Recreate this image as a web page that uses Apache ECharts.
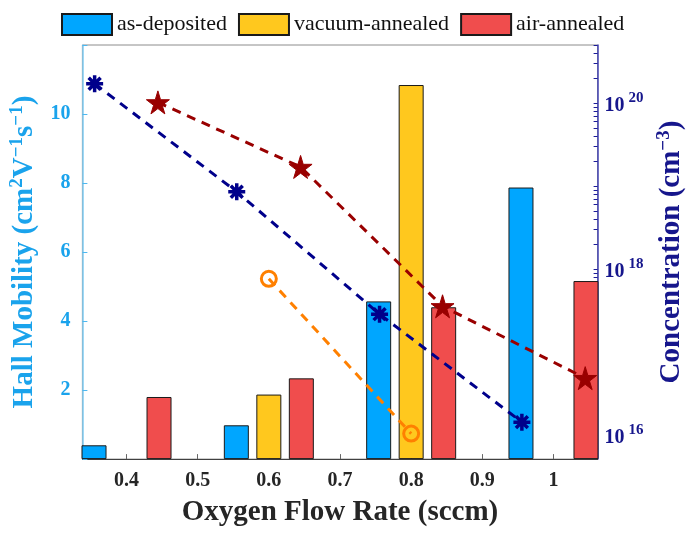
<!DOCTYPE html>
<html><head><meta charset="utf-8">
<script src="https://cdn.jsdelivr.net/npm/echarts@6/dist/echarts.min.js"></script>
<style>html,body{margin:0;padding:0;background:#fff}#c{width:694px;height:535px}</style>
</head><body><div id="c"></div>
<script>
// ---- data ----
const seriesNames = ['as-deposited', 'vacuum-annealed', 'air-annealed'];
const flowAsDep = [0.4, 0.6, 0.8, 1.0];
const flowVac   = [0.6, 0.8];
const flowAir   = [0.4, 0.6, 0.8, 1.0];
const mobAsDep = [0.40, 0.98, 4.57, 7.87];
const mobVac   = [1.87, 10.84];
const mobAir   = [1.80, 2.34, 4.40, 5.16];
// marker x positions (they sit on the bar centres)
const xConcAsDep = [0.3552, 0.5549, 0.7556, 0.9556];
const xConcVac   = [0.6, 0.8];
const xConcAir   = [0.4441, 0.6446, 0.8441, 1.0446];
const concAsDep = [1.71e20, 8.53e18, 2.86e17, 1.43e16];
const concVac   = [7.62e17, 1.04e16];
const concAir   = [1.02e20, 1.70e19, 3.56e17, 4.85e16];
const xTickLabels = [0.4, 0.5, 0.6, 0.7, 0.8, 0.9, 1.0];
const mobTicks = [0, 2, 4, 6, 8, 10, 12];
const concTickExps = [16, 18, 20];

// ---- styling ----
const serif = 'Liberation Serif';
const cBlue = '#00A6FF', cYellow = '#FFC81E', cRed = '#F04D4D';
const leftCol = '#1AA3EC', rightCol = '#16168C';
const xMin = 0.338, xMax = 1.062, eMin = 15.71, eMax = 20.70;

const minorExp = [];
for (let n = 15; n <= 20; n++) for (let k = 1; k <= 9; k++) {
  const v = Math.log10(k * Math.pow(10, n));
  if (v >= eMin && v <= eMax) minorExp.push(v);
}

const asterisk = 'path://M0,10 L20,10 M10,0 L10,20 M3,3 L17,17 M17,3 L3,17';
const star = 'path://M50,0 L61,35 L98,35 L68,57 L79,91 L50,70 L21,91 L32,57 L2,35 L39,35 Z';

const chart = echarts.init(document.getElementById('c'), null, { renderer: 'canvas' });
const boldTxt = (size, color) => ({ fontFamily: serif, fontWeight: 'bold', fontSize: size, color: color });

function barSeries(name, xs, ys, color) {
  return {
    name: name, type: 'bar', xAxisIndex: 0, yAxisIndex: 0, barWidth: 25, barGap: '30%', z: 2,
    data: xs.map((x, i) => [x, ys[i]]),
    itemStyle: { color: color, borderColor: '#1a1a1a', borderWidth: 1 }
  };
}
function lineSeries(name, xs, cs, color, symbol, size, itemStyle) {
  return {
    name: name, type: 'line', xAxisIndex: 0, yAxisIndex: 1, z: 4,
    data: xs.map((x, i) => [x, Math.log10(cs[i])]),
    symbol: symbol, symbolSize: size, showAllSymbol: true,
    lineStyle: { color: color, width: 3, type: [9, 7] },
    itemStyle: itemStyle
  };
}
const nameRich = (col) => ({
  a: { fontFamily: serif, fontWeight: 'bold', fontSize: 29, color: col, lineHeight: 34 },
  s: { fontFamily: serif, fontWeight: 'bold', fontSize: 19, color: col, lineHeight: 19, verticalAlign: 'top' }
});

chart.setOption({
  animation: false,
  backgroundColor: '#fff',
  grid: { left: 76, right: 93, top: 45, bottom: 62, show: true, borderColor: '#8c8c8c', borderWidth: 1, backgroundColor: 'transparent' },
  legend: {
    data: seriesNames, left: 56, top: 8, itemWidth: 50, itemHeight: 21, itemGap: 11, icon: 'rect',
    textStyle: { fontFamily: serif, fontSize: 22, color: '#111' }
  },
  xAxis: [{
    type: 'value', min: xMin, max: xMax, position: 'bottom',
    axisLine: { lineStyle: { color: '#404040', width: 1 } },
    axisTick: { inside: true, length: 5, customValues: xTickLabels, lineStyle: { color: '#666' } },
    axisLabel: Object.assign({ customValues: xTickLabels, margin: 12 }, boldTxt(20, '#262626')),
    splitLine: { show: false },
    name: 'Oxygen Flow Rate (sccm)', nameLocation: 'middle', nameGap: 33,
    nameTextStyle: Object.assign({ lineHeight: 34 }, boldTxt(29, '#262626'))
  }],
  yAxis: [{
    type: 'value', min: 0, max: 12, position: 'left',
    axisLine: { show: true, lineStyle: { color: '#7FCBF2', width: 1.5 } },
    axisTick: { show: true, inside: true, length: 5, customValues: mobTicks, lineStyle: { color: '#4DB8F0' } },
    axisLabel: Object.assign({ customValues: mobTicks.slice(1, -1), margin: 12 }, boldTxt(20, leftCol)),
    splitLine: { show: false },
    name: '{a|Hall Mobility (cm}{s|2}{a|V}{s|\u22121}{a|s}{s|\u22121}{a|)}',
    nameLocation: 'middle', nameGap: 34, nameRotate: 90,
    nameTextStyle: { color: leftCol, fontFamily: serif, fontWeight: 'bold', fontSize: 29, rich: nameRich(leftCol) }
  }, {
    type: 'value', min: eMin, max: eMax, position: 'right',
    axisLine: { show: true, lineStyle: { color: '#4545B5', width: 1.5 } },
    axisTick: { show: true, inside: true, length: 4, customValues: minorExp, lineStyle: { color: '#1c1c9a' } },
    axisLabel: {
      customValues: concTickExps, margin: 7, padding: [6, 0, 0, 0],
      formatter: v => '{b|10}{s|' + Math.round(v) + '}',
      rich: {
        b: { fontFamily: serif, fontWeight: 'bold', fontSize: 20, color: rightCol, lineHeight: 30 },
        s: { fontFamily: serif, fontWeight: 'bold', fontSize: 15, color: rightCol, lineHeight: 12, verticalAlign: 'top', padding: [0, 0, 0, 4] }
      }
    },
    splitLine: { show: false },
    name: '{a|Concentration (cm}{s|\u22123}{a|)}',
    nameLocation: 'middle', nameGap: 50, nameRotate: 90,
    nameTextStyle: { color: rightCol, fontFamily: serif, fontWeight: 'bold', fontSize: 29, rich: nameRich(rightCol) }
  }],
  series: [
    barSeries(seriesNames[0], flowAsDep, mobAsDep, cBlue),
    barSeries(seriesNames[1], flowVac, mobVac, cYellow),
    barSeries(seriesNames[2], flowAir, mobAir, cRed),
    lineSeries('as-deposited concentration', xConcAsDep, concAsDep, '#00008B', asterisk, 17,
      { color: '#00008B', borderColor: '#00008B', borderWidth: 3.5 }),
    lineSeries('vacuum-annealed concentration', xConcVac, concVac, '#FF8000', 'circle', 15,
      { color: 'rgba(0,0,0,0)', borderColor: '#FF8000', borderWidth: 3 }),
    lineSeries('air-annealed concentration', xConcAir, concAir, '#990000', star, 23,
      { color: '#990000', borderColor: '#990000', borderWidth: 1 })
  ]
});
</script></body></html>
